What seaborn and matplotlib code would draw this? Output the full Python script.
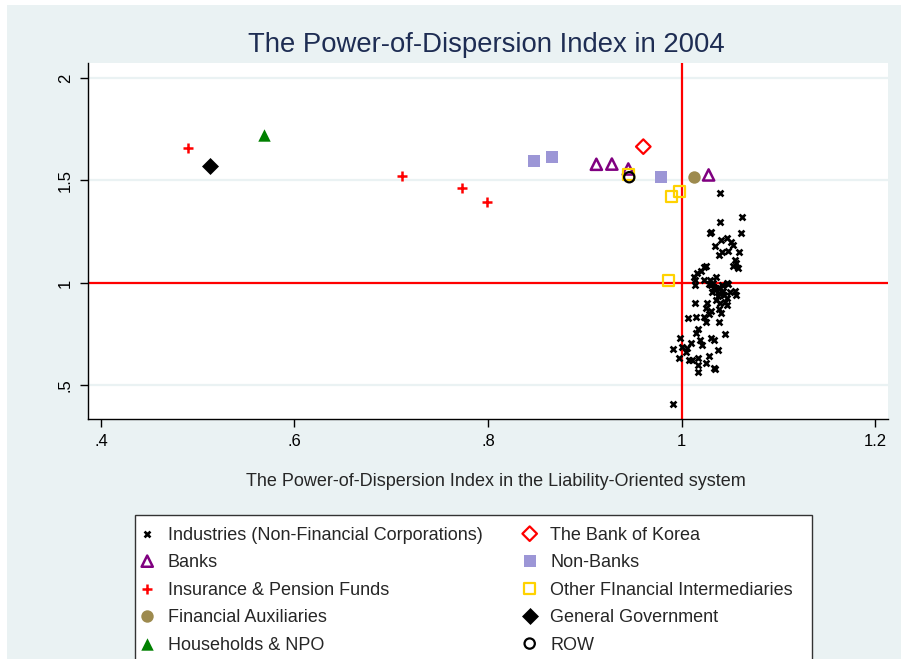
"""Power-of-Dispersion index por setor, 2004 (scatter estilo Stata s2color)."""

import matplotlib

matplotlib.use("Agg")
import matplotlib.pyplot as plt  # noqa: E402
import pandas as pd  # noqa: E402
import seaborn as sns  # noqa: E402
from matplotlib.patches import Rectangle  # noqa: E402

# --- Dados (x = sistema orientado a passivos, y = indice) ---
industries_x = [
    1.0399, 1.0623, 1.0396, 1.0303, 1.0293, 1.0617, 1.0406, 1.0465, 1.0510, 1.0527,
    1.0348, 1.0485, 1.0416, 1.0389, 1.0596, 1.0551, 1.0534, 1.0585, 1.0568, 1.0251,
    1.0234, 1.0199, 1.0165, 1.0124, 1.0141, 1.0234, 1.0296, 1.0355, 1.0475,
    1.0141, 1.0303, 1.0337, 1.0372, 1.0423, 1.0485, 1.0320, 1.0389, 1.0440, 1.0475,
    1.0568, 1.0354, 1.0468, 1.0141, 1.0251, 1.0303, 1.0389, 1.0406, 1.0286, 1.0234,
    1.0251, 1.0148, 1.0068, 1.0389, 1.0450, 1.0175, 1.0148, 1.0100, 1.0193, 1.0210,
    1.0303, 1.0337, 1.0372, 0.9914, 0.9986, 1.0010, 1.0060, 1.0044, 0.9975, 1.0079,
    1.0113, 1.0175, 1.0286, 1.0251, 1.0175, 1.0175, 1.0337, 1.0347, 0.9914,
    1.0350, 1.0400, 1.0430, 1.0380, 1.0450, 1.0500, 1.0280, 1.0330, 1.0550, 1.0260,
    1.0400,
]
industries_y = [
    1.437, 1.324, 1.296, 1.250, 1.242, 1.242, 1.210, 1.218, 1.202, 1.185,
    1.182, 1.156, 1.153, 1.135, 1.153, 1.112, 1.083, 1.071, 1.096, 1.083,
    1.076, 1.060, 1.047, 1.031, 1.015, 1.015, 1.015, 1.031, 0.999,
    0.990, 0.990, 0.982, 0.974, 0.990, 0.995, 0.958, 0.950, 0.942, 0.925,
    0.942, 0.917, 0.893, 0.904, 0.877, 0.865, 0.872, 0.855, 0.849, 0.833,
    0.811, 0.836, 0.828, 0.811, 0.751, 0.774, 0.754, 0.706, 0.722, 0.698,
    0.730, 0.722, 0.673, 0.678, 0.730, 0.690, 0.681, 0.665, 0.633, 0.624,
    0.624, 0.632, 0.644, 0.608, 0.600, 0.568, 0.584, 0.579, 0.408,
    0.965, 0.975, 0.960, 0.935, 0.905, 0.955, 0.995, 1.002, 0.962, 0.900,
    0.900,
]
bok_x, bok_y = [0.9605], [1.665]
banks_x = [0.912, 0.928, 0.945, 1.028]
banks_y = [1.579, 1.580, 1.556, 1.527]
nonbanks_x = [0.8475, 0.866, 0.979]
nonbanks_y = [1.597, 1.615, 1.516]
insurance_x = [0.490, 0.711, 0.773, 0.799]
insurance_y = [1.660, 1.522, 1.463, 1.395]
ofi_x = [0.945, 0.990, 0.998, 0.9864]
ofi_y = [1.530, 1.423, 1.447, 1.011]
finaux_x, finaux_y = [1.0126], [1.517]
govt_x, govt_y = [0.513], [1.571]
households_x, households_y = [0.569], [1.722]
row_x, row_y = [0.946], [1.516]

# (rotulo, x, y, marcador, cor, vazado, tamanho, espessura)
SERIES = [
    ("Industries (Non-Financial Corporations)", industries_x, industries_y, "x", "black", False, 18, 1.9),
    ("The Bank of Korea", bok_x, bok_y, "D", "#FF0000", True, 55, 1.6),
    ("Banks", banks_x, banks_y, "^", "#800080", True, 65, 1.8),
    ("Non-Banks", nonbanks_x, nonbanks_y, "s", "#9C96D6", False, 65, 0.0),
    ("Insurance & Pension Funds", insurance_x, insurance_y, "+", "#FF0000", False, 60, 1.8),
    ("Other FInancial Intermediaries", ofi_x, ofi_y, "s", "#FFD200", True, 60, 1.6),
    ("Financial Auxiliaries", finaux_x, finaux_y, "o", "#9D8A4E", False, 80, 0.0),
    ("General Government", govt_x, govt_y, "D", "black", False, 75, 0.0),
    ("Households & NPO", households_x, households_y, "^", "#008000", False, 80, 0.0),
    ("ROW", row_x, row_y, "o", "black", True, 55, 1.6),
]

BG = "#EAF2F3"
NAVY = "#1E2D53"
W, H = 901, 659

sns.set_style("ticks")
plt.rcParams["font.family"] = ["Liberation Sans", "DejaVu Sans"]

fig = plt.figure(figsize=(W / 100, H / 100), dpi=100, facecolor="white")
fig.patches.append(Rectangle((7 / W, 0), 1, 1 - 5 / H, transform=fig.transFigure,
                             facecolor=BG, edgecolor="none", zorder=-10))
ax = fig.add_axes([88 / W, 1 - 419 / H, 800 / W, 356 / H])
ax.set_facecolor("white")

handles = {}
for label, xs, ys, marker, color, hollow, size, lw in SERIES:
    df = pd.DataFrame({"x": xs, "y": ys})
    kws = dict(marker=marker, s=size, linewidth=lw, zorder=3)
    if hollow:
        kws.update(facecolor="none", edgecolor=color)
    elif marker in ("x", "+"):
        kws.update(color=color)
    else:
        kws.update(color=color, edgecolor=color)
    sns.scatterplot(data=df, x="x", y="y", ax=ax, label=label, legend=False, **kws)
    handles[label] = ax.collections[-1]

ax.axvline(1, color="red", lw=1.6, zorder=2)
ax.axhline(1, color="red", lw=1.6, zorder=2)

ax.set_xlim(0.3866, 1.2134)
ax.set_ylim(0.3366, 2.073)
ax.set_xticks([0.4, 0.6, 0.8, 1.0, 1.2])
ax.set_xticklabels([".4", ".6", ".8", "1", "1.2"])
ax.set_yticks([0.5, 1.0, 1.5, 2.0])
ax.set_yticklabels([".5", "1", "1.5", "2"], rotation=90, va="center")
ax.tick_params(axis="both", direction="out", length=6, width=1, labelsize=12,
               colors="black", pad=5)
ax.grid(axis="y", color=BG, lw=1.6, zorder=0)
ax.grid(axis="x", visible=False)
for side in ("top", "right"):
    ax.spines[side].set_visible(False)
for side in ("left", "bottom"):
    ax.spines[side].set_color("black")
    ax.spines[side].set_linewidth(1.0)

ax.set_xlabel("The Power-of-Dispersion Index in the Liability-Oriented system",
              fontsize=13, labelpad=17)
ax.xaxis.label.set_x((496 - 88) / 800)
ax.set_ylabel("")
fig.text(0.54, 1 - 45 / H, "The Power-of-Dispersion Index in 2004",
         ha="center", va="center", fontsize=19.8, color=NAVY)

# moldura da legenda: comeca em y=515 e e cortada pela borda inferior
fig.patches.append(Rectangle((135 / W, -0.05), 677 / W, 0.05 + 1 - 515 / H,
                             transform=fig.transFigure, facecolor="white",
                             edgecolor="#333333", lw=1.0, zorder=1))

# legenda em Stata e por linha; matplotlib preenche por coluna
order = [0, 2, 4, 6, 8, 1, 3, 5, 7, 9]
labels = [SERIES[i][0] for i in order]
leg = fig.legend([handles[lab] for lab in labels], labels, ncol=2,
                 loc="upper left", bbox_to_anchor=(140 / W, 1 - 527 / H),
                 fontsize=13, frameon=False, borderpad=0, borderaxespad=0,
                 labelspacing=0.58, handletextpad=0.75, handlelength=0.8,
                 columnspacing=2.2, scatteryoffsets=[0.5])

fig.savefig("out.png", dpi=100, facecolor=fig.get_facecolor())
